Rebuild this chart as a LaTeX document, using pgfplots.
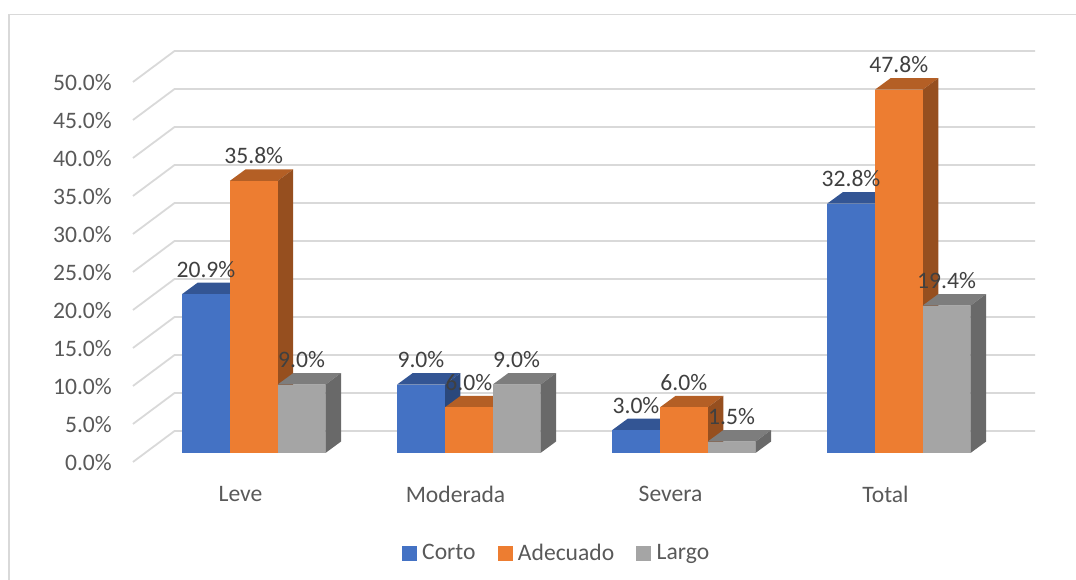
\documentclass[border=0pt]{standalone}
\usepackage{fontspec}
\setmainfont{Carlito}
\usepackage{pgfplots}
\usepackage{pgfplotstable}
\pgfplotsset{compat=1.18}
\definecolor{gridc}{HTML}{D9D9D9}
\definecolor{tickc}{HTML}{595959}
\definecolor{labc}{HTML}{404040}
\definecolor{blueF}{HTML}{4472C4}
\definecolor{blueT}{HTML}{335594}
\definecolor{blueS}{HTML}{2B487C}
\definecolor{orF}{HTML}{ED7D31}
\definecolor{orT}{HTML}{B45F25}
\definecolor{orS}{HTML}{964F1F}
\definecolor{grF}{HTML}{A5A5A5}
\definecolor{grT}{HTML}{7D7D7D}
\definecolor{grS}{HTML}{696969}
\newcommand\lab{\fontsize{23.6}{28}\selectfont}
\pgfplotstableread{
cat corto adecuado largo
0 20.9 35.8 9.0
1 9.0 6.0 9.0
2 3.0 6.0 1.5
3 32.8 47.8 19.4
}\datatable
% bar width and depth in axis units
\def\bw{0.2223}
\def\ddx{0.0726}
\def\ddy{1.51}
\newcommand\onebar[5]{%
  \pgfmathsetmacro\xa{#1}%
  \pgfmathsetmacro\xb{#1+\bw}%
  \pgfmathsetmacro\xc{#1+\bw+\ddx}%
  \pgfmathsetmacro\xd{#1+\ddx}%
  \pgfmathsetmacro\yt{#2}%
  \pgfmathsetmacro\ytt{#2+\ddy}%
  \edef\tmp{%
    \noexpand\addplot[fill=#4,draw=none,forget plot] coordinates {(\xa,\yt) (\xb,\yt) (\xc,\ytt) (\xd,\ytt)} -- cycle;
    \noexpand\addplot[fill=#5,draw=none,forget plot] coordinates {(\xb,0) (\xc,\ddy) (\xc,\ytt) (\xb,\yt)} -- cycle;
    \noexpand\addplot[fill=#3,draw=none,forget plot] coordinates {(\xa,0) (\xb,0) (\xb,\yt) (\xa,\yt)} -- cycle;
  }\tmp}
\newcommand\gridl[1]{%
  \pgfmathsetmacro\ya{#1-1.18}%
  \pgfmathsetmacro\yb{#1+2.89}%
  \edef\tmp{\noexpand\addplot[gridc,line width=1.8pt,forget plot] coordinates {(-0.5,\ya) (-0.3070,\yb) (3.695,\yb)};}\tmp}
\begin{document}
\begin{tikzpicture}
\useasboundingbox (-133pt,-127pt) rectangle (943pt,453pt);
\draw[gridc,line width=1.2pt] (-124pt,-127pt) -- (-124pt,438.5pt) -- (943pt,438.5pt);
\begin{axis}[
  scale only axis, width=902pt, height=380pt,
  xmin=-0.5, xmax=3.695, ymin=0, ymax=50,
  clip=false,
  axis line style={draw=none}, tick style={draw=none},
  ytick={0,5,...,50},
  yticklabels={0.0\%,5.0\%,10.0\%,15.0\%,20.0\%,25.0\%,30.0\%,35.0\%,40.0\%,45.0\%,50.0\%},
  xtick={0,1,2,3},
  xticklabels={Leve,Moderada,Severa,Total},
  yticklabel style={font=\lab,text=tickc,anchor=east,inner sep=0pt,xshift=-21pt,yshift=-10pt},
  xticklabel style={font=\lab,text=tickc,anchor=center,inner sep=0pt,yshift=-41pt},
  /pgf/number format/assume math mode=true,
  legend style={draw=none,fill=none,font=\lab,text=tickc,
    at={(axis description cs:0.4695,-0.2630)},anchor=center,
    legend columns=3,
    /tikz/every odd column/.append style={column sep=4pt},
    /tikz/every even column/.append style={column sep=20pt}},
  legend image code/.code={\fill[#1] (0pt,-7pt) rectangle (14pt,7pt);},
]
\addlegendimage{blueF}\addlegendentry{Corto}
\addlegendimage{orF}\addlegendentry{Adecuado}
\addlegendimage{grF}\addlegendentry{Largo}
\gridl{0}\gridl{5}\gridl{10}\gridl{15}\gridl{20}\gridl{25}\gridl{30}\gridl{35}\gridl{40}\gridl{45}\gridl{50}
\pgfplotsforeachungrouped \r in {0,1,2,3}{%
  \pgfplotstablegetelem{\r}{corto}\of\datatable \let\vA\pgfplotsretval
  \pgfplotstablegetelem{\r}{adecuado}\of\datatable \let\vB\pgfplotsretval
  \pgfplotstablegetelem{\r}{largo}\of\datatable \let\vC\pgfplotsretval
  \pgfmathsetmacro\lA{\r-0.272}\pgfmathsetmacro\lB{\r-0.0497}\pgfmathsetmacro\lC{\r+0.1726}%
  \edef\pA{\lA}\edef\pB{\lB}\edef\pC{\lC}%
  \onebar{\pA}{\vA}{blueF}{blueT}{blueS}%
  \onebar{\pB}{\vB}{orF}{orT}{orS}%
  \onebar{\pC}{\vC}{grF}{grT}{grS}%
}
\pgfplotsset{lbl/.style={draw=none,forget plot,point meta=y,
  nodes near coords={\pgfmathprintnumber[fixed,fixed zerofill,precision=1]{\pgfplotspointmeta}\%},
  every node near coord/.append style={font=\lab,text=labc,anchor=center,inner sep=0pt,yshift=25pt}}}
\addplot[lbl] table[x expr=\thisrow{cat}-0.1608,y=corto] {\datatable};
\addplot[lbl] table[x expr=\thisrow{cat}+0.0615,y=adecuado] {\datatable};
\addplot[lbl] table[x expr=\thisrow{cat}+0.2838,y=largo] {\datatable};
\end{axis}
\end{tikzpicture}
\end{document}
